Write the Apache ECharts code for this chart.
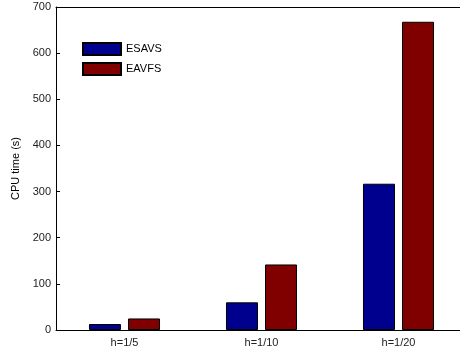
<!DOCTYPE html>
<html>
<head>
<meta charset="utf-8">
<script src="https://cdn.jsdelivr.net/npm/echarts@6/dist/echarts.min.js"></script>
<style>
  html, body { margin: 0; padding: 0; background: #fff; overflow: hidden; width: 460px; height: 354px; }
  /* the drawing surface is wider than the window: the right end of the axes box falls off-screen */
  #chart { width: 470px; height: 354px; }
</style>
</head>
<body>
<div id="chart"></div>
<script>
// Mesh sizes and CPU time per method
const categories = ['h=1/5', 'h=1/10', 'h=1/20'];
const esavs = [13, 60, 317];
const eavfs = [25, 142, 668];
const yTicks = [0, 100, 200, 300, 400, 500, 600, 700];

const FONT = 'Liberation Sans, Arial, Helvetica, sans-serif';
const chart = echarts.init(document.getElementById('chart'), null, { renderer: 'canvas' });

chart.setOption({
  animation: false,
  backgroundColor: '#ffffff',
  grid: { left: 56, top: 7, right: 3, bottom: 24, containLabel: false },
  legend: {
    left: 77, top: 37, orient: 'vertical', itemWidth: 38, itemHeight: 12, itemGap: 6,
    icon: 'rect',
    textStyle: { fontFamily: FONT, fontSize: 11, color: '#000' },
    data: ['ESAVS', 'EAVFS']
  },
  xAxis: [
    {
      type: 'category', data: categories, position: 'bottom',
      axisLine: { lineStyle: { color: '#000', width: 1 } },
      axisTick: { inside: true, alignWithLabel: true, length: 4, lineStyle: { color: '#000' } },
      axisLabel: { fontFamily: FONT, fontSize: 11, color: '#222', margin: 7 }
    },
    {
      type: 'category', data: categories, position: 'top',
      axisLine: { show: true, lineStyle: { color: '#000', width: 1 } },
      axisTick: { inside: true, alignWithLabel: true, length: 4, lineStyle: { color: '#000' } },
      axisLabel: { show: false }
    }
  ],
  yAxis: {
    type: 'value', min: yTicks[0], max: yTicks[yTicks.length - 1], interval: 100,
    name: 'CPU time (s)', nameLocation: 'middle', nameGap: 30, nameRotate: 90,
    nameTextStyle: { fontFamily: FONT, fontSize: 11, color: '#000' },
    axisLine: { show: true, lineStyle: { color: '#000', width: 1 } },
    axisTick: { show: true, inside: true, length: 4, lineStyle: { color: '#000' } },
    axisLabel: { fontFamily: FONT, fontSize: 11, color: '#222', margin: 5 },
    splitLine: { show: false }
  },
  series: [
    {
      name: 'ESAVS', type: 'bar', data: esavs, barWidth: 32, barGap: '22%',
      itemStyle: { color: '#00008f', borderColor: '#000', borderWidth: 1 }
    },
    {
      name: 'EAVFS', type: 'bar', data: eavfs, barWidth: 32,
      itemStyle: { color: '#800000', borderColor: '#000', borderWidth: 1 }
    }
  ]
});
</script>
</body>
</html>
